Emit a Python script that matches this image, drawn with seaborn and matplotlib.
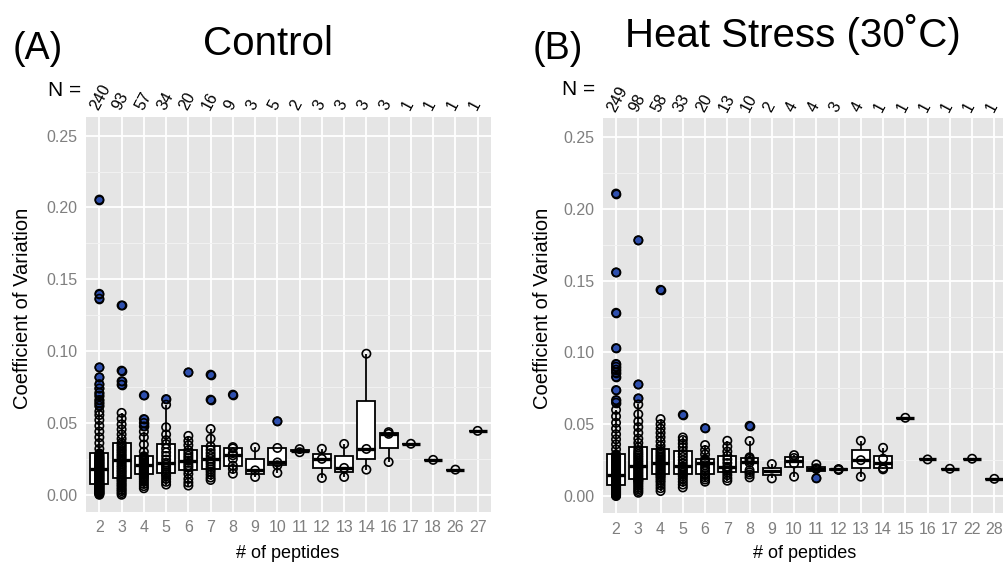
import numpy as np
import pandas as pd
import matplotlib
matplotlib.use("Agg")
import matplotlib.pyplot as plt
from matplotlib.ticker import MultipleLocator, FixedLocator
import seaborn as sns

# ---------------- data ----------------
ctrl_cats = ["2", "3", "4", "5", "6", "7", "8", "9", "10", "11", "12", "13",
             "14", "16", "17", "18", "26", "27"]
ctrl_n = [240, 93, 57, 34, 20, 16, 9, 3, 5, 2, 3, 3, 3, 3, 1, 1, 1, 1]

ctrl_p2 = [0.0000, 0.0004, 0.0009, 0.0013, 0.0016, 0.0021, 0.0024, 0.0029, 0.0032, 0.0037,
           0.0040, 0.0045, 0.0048, 0.0052, 0.0057, 0.0060, 0.0064, 0.0068, 0.0071, 0.0074,
           0.0077, 0.0082, 0.0088, 0.0092, 0.0097, 0.0103, 0.0107, 0.0112, 0.0118, 0.0122,
           0.0127, 0.0133, 0.0137, 0.0142, 0.0148, 0.0152, 0.0158, 0.0163, 0.0170, 0.0177,
           0.0182, 0.0187, 0.0193, 0.0197, 0.0202, 0.0208, 0.0212, 0.0218, 0.0222, 0.0227,
           0.0233, 0.0237, 0.0243, 0.0247, 0.0252, 0.0258, 0.0262, 0.0268, 0.0275, 0.0282,
           0.0288, 0.0320, 0.0360, 0.0400, 0.0440, 0.0480, 0.0520, 0.0555, 0.0580,
           0.0620, 0.0640, 0.0660, 0.0690, 0.0710, 0.0740, 0.0770, 0.0818, 0.0887,
           0.1365, 0.1399, 0.2055]
ctrl_p3 = [0.0000, 0.0012, 0.0025, 0.0036, 0.0048, 0.0061, 0.0072, 0.0084, 0.0097, 0.0107,
           0.0117, 0.0129, 0.0141, 0.0154, 0.0165, 0.0177, 0.0190, 0.0201, 0.0214, 0.0227,
           0.0240, 0.0252, 0.0265, 0.0276, 0.0288, 0.0301, 0.0312, 0.0324, 0.0337, 0.0348,
           0.0361, 0.0390, 0.0420, 0.0455, 0.0490, 0.0530, 0.0570,
           0.0766, 0.0790, 0.0864, 0.1318]
ctrl_p4 = [0.0045, 0.0060, 0.0075, 0.0090, 0.0105, 0.0118, 0.0128, 0.0138,
           0.0147, 0.0155, 0.0163, 0.0171, 0.0179, 0.0187, 0.0195, 0.0203,
           0.0210, 0.0218, 0.0226, 0.0234, 0.0242, 0.0250, 0.0256, 0.0262,
           0.0268, 0.0300, 0.0350, 0.0400, 0.0440, 0.0476, 0.0500, 0.0527, 0.0692]
ctrl_p5 = [0.0071, 0.0090, 0.0110, 0.0130, 0.0143, 0.0154, 0.0168, 0.0182, 0.0196, 0.0209,
           0.0222, 0.0245, 0.0270, 0.0295, 0.0322, 0.0353, 0.0380, 0.0420, 0.0470,
           0.0627, 0.0666]
ctrl_p6 = [0.0064, 0.0085, 0.0110, 0.0145, 0.0170, 0.0190, 0.0205, 0.0222, 0.0238,
           0.0255, 0.0272, 0.0290, 0.0310, 0.0345, 0.0375, 0.0410, 0.0852]
ctrl_p7 = [0.0103, 0.0120, 0.0140, 0.0160, 0.0177, 0.0195, 0.0215, 0.0232, 0.0250,
           0.0270, 0.0290, 0.0312, 0.0337, 0.0390, 0.0458, 0.0662, 0.0836]
ctrl_p8 = [0.0147, 0.0180, 0.0203, 0.0250, 0.0275, 0.0290, 0.0323, 0.0332, 0.0697]
ctrl_p9 = [0.0124, 0.0170, 0.0330]
ctrl_p10 = [0.0152, 0.0205, 0.0225, 0.0326, 0.0512]
ctrl_p11 = [0.0296, 0.0318]
ctrl_p12 = [0.0117, 0.0250, 0.0320]
ctrl_p13 = [0.0124, 0.0187, 0.0354]
ctrl_p14 = [0.0175, 0.0319, 0.0982]
ctrl_p16 = [0.0228, 0.0424, 0.0436]
ctrl_p17 = [0.0355]
ctrl_p18 = [0.0243]
ctrl_p26 = [0.0175]
ctrl_p27 = [0.0445]

heat_cats = ["2", "3", "4", "5", "6", "7", "8", "9", "10", "11", "12", "13",
             "14", "15", "16", "17", "22", "28"]
heat_n = [249, 98, 58, 33, 20, 13, 10, 2, 4, 4, 3, 4, 1, 1, 1, 1, 1, 1]

heat_p2 = [0.0000, 0.0004, 0.0008, 0.0013, 0.0016, 0.0020, 0.0025, 0.0028, 0.0032, 0.0036,
           0.0041, 0.0044, 0.0048, 0.0053, 0.0056, 0.0060, 0.0064, 0.0068, 0.0071, 0.0074,
           0.0077, 0.0081, 0.0085, 0.0089, 0.0093, 0.0097, 0.0101, 0.0105, 0.0109, 0.0113,
           0.0117, 0.0121, 0.0125, 0.0129, 0.0133, 0.0137, 0.0140, 0.0143, 0.0146, 0.0148,
           0.0150, 0.0157, 0.0164, 0.0171, 0.0178, 0.0185, 0.0192, 0.0199, 0.0206, 0.0213,
           0.0220, 0.0227, 0.0234, 0.0241, 0.0248, 0.0255, 0.0262, 0.0270, 0.0277, 0.0284,
           0.0290, 0.0325, 0.0360, 0.0395, 0.0430, 0.0470, 0.0510, 0.0555, 0.0600,
           0.0650, 0.0668, 0.0738, 0.0830, 0.0860, 0.0880, 0.0900, 0.0920,
           0.1030, 0.1276, 0.1557, 0.2106]
heat_p3 = [0.0023, 0.0035, 0.0047, 0.0059, 0.0071, 0.0083, 0.0094, 0.0103, 0.0110, 0.0115,
           0.0120, 0.0130, 0.0140, 0.0150, 0.0160, 0.0170, 0.0180, 0.0190, 0.0198, 0.0204,
           0.0210, 0.0222, 0.0234, 0.0246, 0.0258, 0.0270, 0.0282, 0.0294, 0.0306, 0.0320,
           0.0340, 0.0370, 0.0400, 0.0440, 0.0480, 0.0520, 0.0570, 0.0638,
           0.0680, 0.0777, 0.1781]
heat_p4 = [0.0035, 0.0055, 0.0075, 0.0095, 0.0110, 0.0125, 0.0137, 0.0147,
           0.0155, 0.0165, 0.0175, 0.0185, 0.0195, 0.0205, 0.0215, 0.0224,
           0.0233, 0.0244, 0.0255, 0.0266, 0.0277, 0.0288, 0.0300, 0.0312,
           0.0325, 0.0350, 0.0380, 0.0410, 0.0440, 0.0470, 0.0500, 0.0536, 0.1436]
heat_p5 = [0.0060, 0.0080, 0.0100, 0.0120, 0.0138, 0.0151, 0.0163, 0.0175, 0.0187, 0.0197,
           0.0207, 0.0228, 0.0250, 0.0272, 0.0292, 0.0313, 0.0340, 0.0365, 0.0390,
           0.0408, 0.0566]
heat_p6 = [0.0100, 0.0115, 0.0130, 0.0145, 0.0156, 0.0175, 0.0195, 0.0215, 0.0232,
           0.0238, 0.0244, 0.0250, 0.0256, 0.0290, 0.0320, 0.0355, 0.0473]
heat_p7 = [0.0107, 0.0125, 0.0145, 0.0165, 0.0180, 0.0192, 0.0204, 0.0230, 0.0255,
           0.0280, 0.0310, 0.0345, 0.0385]
heat_p8 = [0.0130, 0.0150, 0.0165, 0.0180, 0.0232, 0.0245, 0.0260, 0.0270, 0.0383, 0.0489]
heat_p9 = [0.0123, 0.0223]
heat_p10 = [0.0135, 0.0227, 0.0265, 0.0285]
heat_p11 = [0.0125, 0.0188, 0.0194, 0.0220]
heat_p12 = [0.0182, 0.0185, 0.0188]
heat_p13 = [0.0135, 0.0250, 0.0385]
heat_p14 = [0.0186, 0.0195, 0.0260, 0.0336]
heat_p15 = [0.0545]
heat_p16 = [0.0255]
heat_p17 = [0.0190]
heat_p22 = [0.0260]
heat_p28 = [0.0120]

ctrl_groups = [ctrl_p2, ctrl_p3, ctrl_p4, ctrl_p5, ctrl_p6, ctrl_p7, ctrl_p8, ctrl_p9,
               ctrl_p10, ctrl_p11, ctrl_p12, ctrl_p13, ctrl_p14, ctrl_p16, ctrl_p17,
               ctrl_p18, ctrl_p26, ctrl_p27]
heat_groups = [heat_p2, heat_p3, heat_p4, heat_p5, heat_p6, heat_p7, heat_p8, heat_p9,
               heat_p10, heat_p11, heat_p12, heat_p13, heat_p14, heat_p15, heat_p16,
               heat_p17, heat_p22, heat_p28]

y_ticks = [0.00, 0.05, 0.10, 0.15, 0.20, 0.25]
y_ticklabels = ["0.00", "0.05", "0.10", "0.15", "0.20", "0.25"]

# ---------------- style ----------------
BLUE = "#2E4FAE"
GREY50 = "#7F7F7F"
PANEL = "#E5E5E5"

sns.set_style("white")
plt.rcParams["font.family"] = ["Liberation Sans", "DejaVu Sans"]
plt.rcParams["text.color"] = "black"


def make_df(cats, groups):
    rows = []
    for c, vals in zip(cats, groups):
        for v in vals:
            rows.append((c, v))
    return pd.DataFrame(rows, columns=["peptides", "cv"])


def draw_panel(ax, df, cats, ns):
    ax.set_facecolor(PANEL)
    sns.boxplot(data=df, x="peptides", y="cv", order=cats, ax=ax,
                color="white", linecolor="black", linewidth=1.3, width=0.8,
                saturation=1, showcaps=False, whis=1.5, fliersize=6.0,
                flierprops=dict(marker="o", markerfacecolor=BLUE,
                                markeredgecolor="black", markeredgewidth=1.0),
                medianprops=dict(color="black", linewidth=2.4))
    n0 = len(ax.collections)
    sns.stripplot(data=df, x="peptides", y="cv", order=cats, ax=ax,
                  jitter=False, size=6.0, color="black", linewidth=1.2,
                  edgecolor="black")
    for coll in ax.collections[n0:]:
        coll.set_facecolor("none")
        coll.set_edgecolor("black")
        coll.set_linewidth(1.2)
        coll.set_zorder(4)

    ax.set_xlim(-0.6, len(cats) - 0.4)
    ax.set_ylim(-0.012, 0.263)
    ax.yaxis.set_major_locator(FixedLocator(y_ticks))
    ax.set_yticklabels(y_ticklabels)
    ax.yaxis.set_minor_locator(MultipleLocator(0.025))
    ax.set_axisbelow(True)
    ax.grid(True, which="major", axis="both", color="white", linewidth=1.3)
    ax.grid(True, which="minor", axis="y", color="#F2F2F2", linewidth=0.7)
    for s in ax.spines.values():
        s.set_visible(False)
    ax.tick_params(axis="both", which="major", colors=GREY50, labelsize=11.5,
                   length=4, width=1.0, pad=2)
    ax.tick_params(axis="both", which="minor", length=0)
    ax.set_xlabel("")
    ax.set_ylabel("")

    tr = ax.get_xaxis_transform()
    for i, n in enumerate(ns):
        ax.text(i - 0.22, 1.02, str(n), transform=tr, rotation=62,
                rotation_mode="anchor", ha="left", va="center",
                fontsize=11.5, color="black", clip_on=False)


W, H = 1004, 565
fig = plt.figure(figsize=(W / 100, H / 100), dpi=100)
fig.patch.set_facecolor("white")

ax1 = fig.add_axes([86 / W, 1 - 512 / H, 405 / W, 395 / H])
ax2 = fig.add_axes([602.7 / W, 1 - 513.3 / H, 405 / W, 395 / H])

draw_panel(ax1, make_df(ctrl_cats, ctrl_groups), ctrl_cats, ctrl_n)
draw_panel(ax2, make_df(heat_cats, heat_groups), heat_cats, heat_n)

# titles and labels
fig.text(268 / W, 1 - 55 / H, "Control", ha="center", va="baseline", fontsize=29)
fig.text(13 / W, 1 - 59 / H, "(A)", ha="left", va="baseline", fontsize=27)
fig.text(793 / W, 1 - 47 / H, "Heat Stress (30˚C)", ha="center", va="baseline", fontsize=29)
fig.text(533 / W, 1 - 59 / H, "(B)", ha="left", va="baseline", fontsize=27)

fig.text(48 / W, 1 - 90 / H, "N =", ha="left", va="center", fontsize=15)
fig.text(562 / W, 1 - 89 / H, "N =", ha="left", va="center", fontsize=15)

fig.text(23 / W, 1 - 308 / H, "Coefficient of Variation", rotation=90,
         ha="center", va="center", fontsize=14.5)
fig.text(543 / W, 1 - 308 / H, "Coefficient of Variation", rotation=90,
         ha="center", va="center", fontsize=14.5)
fig.text(288 / W, 1 - 553 / H, "# of peptides", ha="center", va="center", fontsize=13)
fig.text(805 / W, 1 - 553 / H, "# of peptides", ha="center", va="center", fontsize=13)

fig.savefig("out.png", dpi=100, facecolor="white")
